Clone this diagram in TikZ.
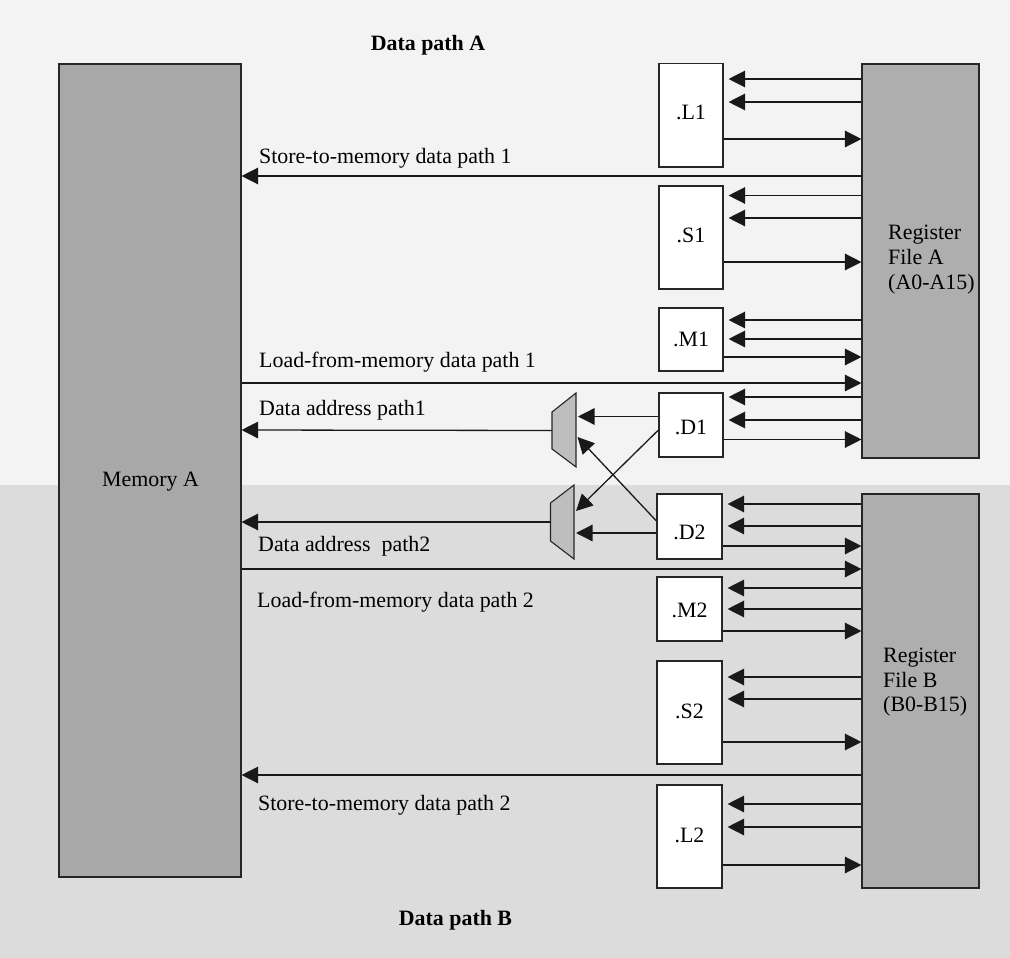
\documentclass[tikz,border=0pt]{standalone}
\usepackage{fontspec}
\setmainfont{Liberation Serif}
\usetikzlibrary{arrows.meta,calc}
\definecolor{bgA}{HTML}{F3F3F3}
\definecolor{bgB}{HTML}{DCDCDC}
\definecolor{regc}{HTML}{AEAEAE}
\definecolor{memc}{HTML}{A8A8A8}
\definecolor{muxc}{HTML}{BEBEBE}
\tikzset{
  x=1pt,y=-1pt,
  lab/.style={inner sep=0pt,anchor=base west,font=\fontsize{21.9}{24}\selectfont},
  blab/.style={inner sep=0pt,anchor=base,font=\fontsize{21.9}{24}\selectfont\bfseries},
  unitbox/.style={draw=black!85,line width=1.1pt,fill=white,inner sep=0pt},
  unittext/.style={inner sep=0pt,font=\fontsize{21.9}{24}\selectfont},
  regbox/.style={draw=black!85,line width=1.1pt,fill=regc,inner sep=0pt},
  membox/.style={draw=black!85,line width=1.1pt,fill=memc,inner sep=0pt},
  conn/.style={draw=black!90,line width=1.3pt,-{Triangle[length=16.5pt,width=16.5pt]}},
  gapped/.style={conn,shorten >=5pt},
  muxshape/.style={draw=black!85,line width=1.1pt,fill=muxc,line join=miter}
}
% name, text, x1, x2, y1, y2, text baseline y
\newcommand{\ubox}[7]{%
  \node[unitbox,minimum width=#4pt-#3pt,minimum height=#6pt-#5pt] (#1) at ({(#3+#4)/2},{(#5+#6)/2}) {};
  \node[unittext,anchor=base] (#1text) at ({(#3+#4)/2},#7) {#2};}
\begin{document}
\begin{tikzpicture}
\useasboundingbox (0,0) rectangle (1010,958);
\fill[bgA] (0,0) rectangle (1010,485);
\fill[bgB] (0,485) rectangle (1010,958);

\node[membox,minimum width=182pt,minimum height=813pt] (mem) at (150,470.5) {};
\node[regbox,minimum width=117pt,minimum height=394pt] (rfa) at (920.5,261) {};
\node[regbox,minimum width=117pt,minimum height=394pt] (rfb) at (920.5,691) {};

\node[lab] (memtext) at (102,486) {Memory A};
\node[lab] (rfa1) at (888,239) {Register};
\node[lab] (rfa2) at (888,264) {File A};
\node[lab] (rfa3) at (888,289) {(A0-A15)};
\node[lab] (rfb1) at (883,662) {Register};
\node[lab] (rfb2) at (883,687) {File B};
\node[lab] (rfb3) at (883,711) {(B0-B15)};

\ubox{L1}{.L1}{659}{723}{63.5}{167}{119}
\ubox{S1}{.S1}{659}{723}{186}{289}{242}
\ubox{M1}{.M1}{659}{723}{308}{371}{346}
\ubox{D1}{.D1}{659}{723}{393}{457}{434}
\ubox{D2}{.D2}{657}{722}{494}{559}{539}
\ubox{M2}{.M2}{657}{722}{577}{641}{617}
\ubox{S2}{.S2}{657}{722}{661}{764}{718}
\ubox{L2}{.L2}{657}{722}{785}{888}{842}

\coordinate (m1a) at (576,393);
\coordinate (m1b) at (552,412);
\coordinate (m1c) at (552,449);
\coordinate (m1d) at (576,467);
\coordinate (m2a) at (574,485);
\coordinate (m2b) at (550.5,503);
\coordinate (m2c) at (550.5,541);
\coordinate (m2d) at (574,559);
\path[muxshape] (m1a) -- (m1b) -- (m1c) -- (m1d) -- cycle;
\path[muxshape] (m2a) -- (m2b) -- (m2c) -- (m2d) -- cycle;

% register file to unit and back
\foreach \u/\r/\ya/\yb/\yc in {L1/rfa/79/102/139, S1/rfa/195.5/218/262, M1/rfa/320/339/357, D1/rfa/397/420/439.5,
                               D2/rfb/504/526/546, M2/rfb/588/609/631, S2/rfb/677/699/742, L2/rfb/804/827/865}{
  \draw[gapped] (\r.west |- 0,\ya) -- (\u.east |- 0,\ya);
  \draw[gapped] (\r.west |- 0,\yb) -- (\u.east |- 0,\yb);
  \draw[conn] (\u.east |- 0,\yc) -- (\r.west |- 0,\yc);
}

% memory paths
\draw[conn] (rfa.west |- 0,176) -- (mem.east |- 0,176);
\draw[conn] (mem.east |- 0,383) -- (rfa.west |- 0,383);
\draw[conn] ($(m1b)!0.5!(m1c)$) -- (mem.east |- 0,430);
\draw[conn] ($(m2b)!0.5!(m2c)$) -- (mem.east |- 0,522);
\draw[conn] (mem.east |- 0,569) -- (rfb.west |- 0,569);
\draw[conn] (rfb.west |- 0,775) -- (mem.east |- 0,775);

% load unit to mux
\draw[conn,shorten >=2pt] (D1.west |- 0,416.5) -- (m1a |- 0,416.5);
\draw[conn,shorten >=2pt] (D2.west |- 0,533) -- (m2a |- 0,533);
\coordinate (x1) at (576,511);
\coordinate (x2) at (577.5,437);
\draw[conn] (D1.west |- 0,430) -- (x1);
\draw[conn] (D2.west |- 0,521) -- (x2);

\node[blab] (ta) at (428,51) {Data path A};
\node[blab] (tb) at (455.5,925) {Data path B};
\node[lab] (s1) at (259,163) {Store-to-memory data path 1};
\node[lab] (l1) at (259,367) {Load-from-memory data path 1};
\node[lab] (a1) at (259,415) {Data address path1};
\node[lab] (a2) at (258,551) {Data address\ \ path2};
\node[lab] (l2) at (257,607) {Load-from-memory data path 2};
\node[lab] (s2) at (258,810) {Store-to-memory data path 2};
\end{tikzpicture}
\end{document}
